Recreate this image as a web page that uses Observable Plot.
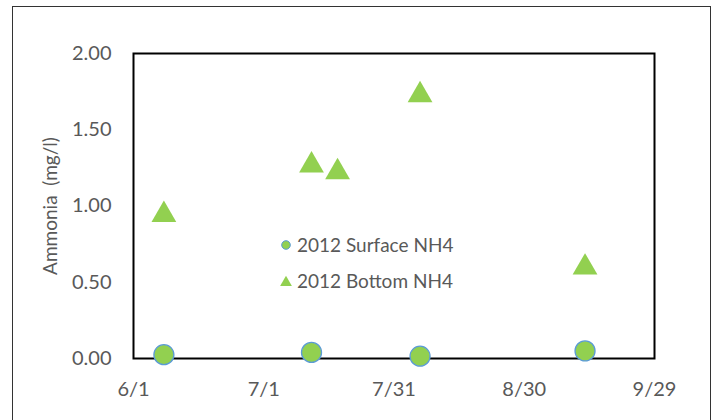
<!DOCTYPE html>
<html>
<head>
<meta charset="utf-8">
<script src="https://cdn.jsdelivr.net/npm/d3@7"></script>
<script src="https://cdn.jsdelivr.net/npm/@observablehq/plot@0.6"></script>
<style>
  html, body { margin: 0; padding: 0; background: #fff; }
  #wrap { position: relative; width: 717px; height: 420px; overflow: hidden; font-family: Lato, "Open Sans", sans-serif; }
  #border { position: absolute; left: 12px; top: 6px; width: 699px; height: 430px; border: 1.5px solid #333; box-sizing: border-box; }
  #chart { position: absolute; left: 0; top: 0; }
  #legend { position: absolute; left: 280px; top: 227px; color: #595959; font-size: 19px; line-height: 36px; }
  #legend div { display: flex; align-items: center; height: 36px; }
  #legend svg { margin-right: 5px; }
</style>
</head>
<body>
<div id="wrap">
  <div id="border"></div>
  <div id="chart"></div>
  <div id="legend"></div>
</div>
<script>
// Data
const surfaceDates = ["2012-06-08", "2012-07-12", "2012-08-06", "2012-09-13"];
const surfaceValues = [0.025, 0.04, 0.015, 0.05];
const bottomDates = ["2012-06-08", "2012-07-12", "2012-07-18", "2012-08-06", "2012-09-13"];
const bottomValues = [0.965, 1.29, 1.245, 1.75, 0.62];
const xTickDates = ["2012-06-01", "2012-07-01", "2012-07-31", "2012-08-30", "2012-09-29"];
const xTickLabels = ["6/1", "7/1", "7/31", "8/30", "9/29"];
const yTicks = [0, 0.5, 1, 1.5, 2];
const seriesNames = ["2012 Surface NH4", "2012 Bottom NH4"];

const parse = d3.utcParse("%Y-%m-%d");
const surface = surfaceDates.map((d, i) => ({date: parse(d), value: surfaceValues[i]}));
const bottom = bottomDates.map((d, i) => ({date: parse(d), value: bottomValues[i]}));
const xTicks = xTickDates.map(parse);
const labelOf = new Map(xTicks.map((d, i) => [+d, xTickLabels[i]]));

const green = "#92D050";
const blue = "#5B9BD5";
const textColor = "#595959";

const plot = Plot.plot({
  width: 717,
  height: 420,
  marginLeft: 133,
  marginRight: 63,
  marginTop: 53,
  marginBottom: 62,
  style: {fontFamily: "Lato, 'Open Sans', sans-serif", fontSize: "20px", color: textColor, background: "transparent"},
  x: {type: "utc", domain: [xTicks[0], xTicks[xTicks.length - 1]]},
  y: {domain: [0, 2]},
  marks: [
    Plot.frame({stroke: "#000", strokeWidth: 2}),
    Plot.axisX({ticks: xTicks, tickFormat: d => labelOf.get(+d), tickSize: 0, tickPadding: 23, label: null, fill: textColor}),
    Plot.axisY({ticks: yTicks, tickFormat: d => d.toFixed(2), tickSize: 0, tickPadding: 22, label: null, fill: textColor}),
    Plot.axisY({ticks: [], label: "Ammonia  (mg/l)", labelAnchor: "center", labelArrow: "none", labelOffset: 90, tickSize: 0, fill: textColor, fontSize: 19}),
    Plot.dot(bottom, {x: "date", y: "value", symbol: "triangle", r: 9.2, fill: green, stroke: "none", dy: 3.5}),
    Plot.dot(surface, {x: "date", y: "value", symbol: "circle", r: 10, fill: green, stroke: blue, strokeWidth: 1.3})
  ]
});
document.getElementById("chart").appendChild(plot);

// Legend
const legend = d3.select("#legend");
const row1 = legend.append("div");
const s1 = row1.append("svg").attr("width", 12).attr("height", 12);
s1.append("circle").attr("cx", 6).attr("cy", 6).attr("r", 4.3).attr("fill", green).attr("stroke", blue).attr("stroke-width", 1);
row1.append("span").text(seriesNames[0]);
const row2 = legend.append("div");
const s2 = row2.append("svg").attr("width", 12).attr("height", 12);
s2.append("path").attr("transform", "translate(6,7.5)").attr("d", d3.symbol(d3.symbolTriangle, 60)()).attr("fill", green);
row2.append("span").text(seriesNames[1]);
</script>
</body>
</html>
